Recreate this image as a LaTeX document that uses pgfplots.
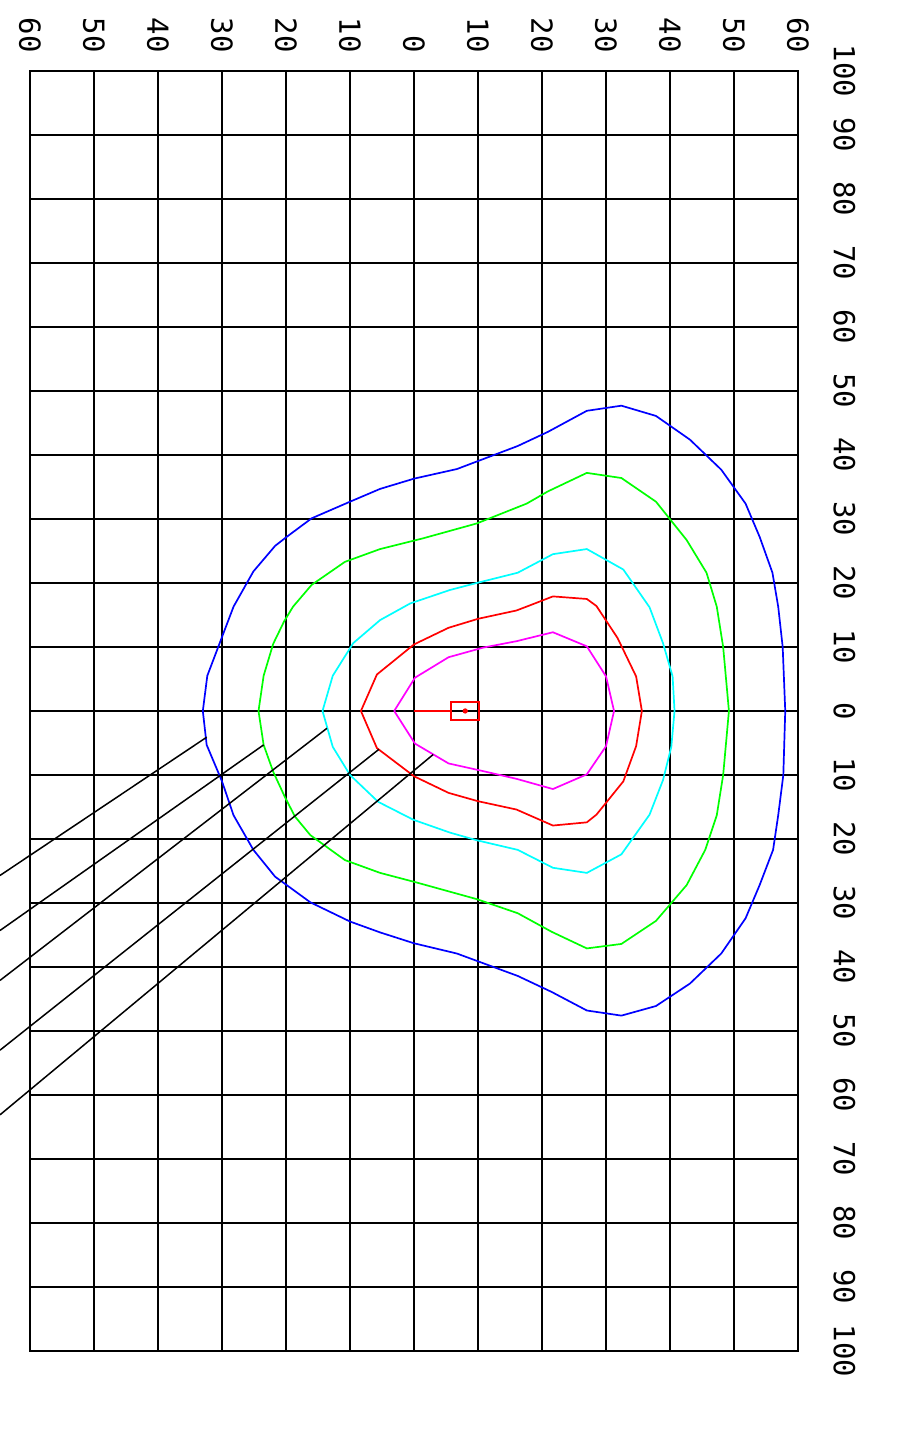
\documentclass[border=0pt]{standalone}
\usepackage{pgfplots}
\pgfplotsset{compat=1.18}
\usepackage{fontspec}
\newfontfamily\labelfont{DejaVu Sans Mono}
\definecolor{cblue}{RGB}{0,0,255}
\definecolor{cgreen}{RGB}{0,255,0}
\definecolor{ccyan}{RGB}{0,255,255}
\definecolor{cred}{RGB}{255,0,0}
\definecolor{cmag}{RGB}{255,0,255}

\begin{document}
\begin{tikzpicture}
\begin{axis}[
  x=3.2pt, y=3.2pt,
  xmin=-60, xmax=60, ymin=-100, ymax=100,
  clip=false,
  axis line style={black, line width=0.9pt},
  grid=major,
  major grid style={black, line width=0.9pt},
  xtick={-60,-50,...,60},
  xticklabels={60,50,40,30,20,10,0,10,20,30,40,50,60},
  ytick={-100,-90,...,100},
  yticklabels={100,90,80,70,60,50,40,30,20,10,0,10,20,30,40,50,60,70,80,90,100},
  xticklabel pos=right,
  yticklabel pos=right,
  major tick length=0pt,
  tick label style={font=\labelfont\fontsize{14.5}{17}\selectfont, rotate=-90, inner sep=0pt},
  xticklabel style={anchor=east},
  yticklabel style={anchor=south},
  xticklabel shift=9pt,
  yticklabel shift=17.5pt,
]

% outer contour
\addplot[cblue, line width=0.85pt] coordinates {
  (-33.0,0) (-32.3,5.5) (-30.1,11.3) (-28.2,16.3) (-25.1,21.8) (-21.7,25.8)
  (-19.9,27.2) (-16.0,30.1) (-10.0,32.7) (-5.3,34.7) (0,36.3) (6.7,37.8)
  (16.2,41.4) (20.9,43.6) (27.0,46.9) (32.4,47.7) (37.8,46.1) (43.1,42.4)
  (48.0,37.7) (51.8,32.4) (54.0,27.2) (56.0,21.6) (56.9,16.3) (57.6,10.0)
  (58.0,0)
  (57.7,-10.0) (56.9,-16.3) (56.1,-21.7) (54.0,-27.2) (51.8,-32.4) (48.0,-37.9)
  (43.1,-42.6) (37.8,-46.1) (32.4,-47.6) (27.0,-46.8) (21.5,-43.9) (16.2,-41.4)
  (6.7,-37.9) (0,-36.3) (-5.3,-34.6) (-10.0,-32.9) (-16.2,-29.9) (-19.9,-27.2)
  (-21.7,-25.9) (-25.1,-21.7) (-28.2,-16.3) (-30.0,-11.0) (-32.4,-5.3) (-33.0,0)
};

\addplot[cgreen, line width=0.85pt] coordinates {
  (-24.3,0) (-23.5,5.5) (-22.0,10.5) (-20.3,14.0) (-18.9,16.3) (-16.0,19.7)
  (-10.8,23.3) (-5.3,25.3) (1.5,27.0) (9.8,29.3) (17.6,32.4) (20.9,34.3)
  (27.0,37.2) (32.4,36.4) (37.8,32.7) (42.6,26.7) (45.7,21.6) (47.3,16.3)
  (48.3,10.0) (49.2,0)
  (48.3,-10.0) (47.3,-16.3) (45.5,-21.7) (42.6,-27.2) (37.8,-32.8) (32.4,-36.4)
  (27.0,-37.1) (21.5,-34.5) (16.2,-31.6) (9.8,-29.4) (0.4,-26.8) (-5.3,-25.3)
  (-10.8,-23.3) (-16.2,-19.4) (-18.6,-16.5) (-20.2,-13.4) (-22.0,-9.5)
  (-23.5,-5.3) (-24.3,0)
};

\addplot[ccyan, line width=0.85pt] coordinates {
  (-14.3,0) (-12.7,5.5) (-9.5,10.6) (-5.3,14.2) (-0.6,16.8) (5.6,18.9)
  (9.8,20.0) (16.2,21.6) (21.7,24.5) (27.0,25.3) (32.7,22.1) (36.8,16.2)
  (38.9,10.6) (40.4,5.4) (40.7,0)
  (40.2,-5.6) (38.9,-10.8) (36.8,-16.2) (32.4,-22.4) (27.0,-25.3) (21.7,-24.5)
  (16.2,-21.7) (9.8,-20.2) (5.6,-19.0) (-0.1,-17.0) (-5.6,-14.2) (-10.0,-10.0)
  (-12.7,-5.6) (-14.3,0)
};

\addplot[cred, line width=0.85pt] coordinates {
  (-8.3,0) (-5.8,5.7) (0,10.4) (5.4,13.0) (10.0,14.4) (16.0,15.7) (18.1,16.5)
  (21.7,17.9) (27.0,17.5) (28.5,16.4) (31.8,11.4) (34.7,5.4) (35.6,0)
  (34.7,-5.5) (32.7,-11.0) (28.5,-16.2) (27.0,-17.4) (21.7,-17.9) (16.0,-15.4)
  (10.0,-14.1) (5.4,-12.8) (0,-10.2) (-5.8,-5.8) (-8.3,0)
};

\addplot[cmag, line width=0.85pt] coordinates {
  (-3.1,0) (0.15,5.2) (5.4,8.4) (10.8,9.9) (16.0,10.9) (21.7,12.3) (27.0,10.1)
  (30.0,5.4) (31.25,0) (30.0,-5.5) (27.0,-9.9) (21.7,-12.2) (16.0,-10.6)
  (10.8,-9.4) (5.4,-8.2) (0.15,-5.1) (-3.1,0)
};

% centre marker
\addplot[cred, line width=0.9pt] coordinates {(0,0) (5.7,0)};
\addplot[cred, only marks, mark=square, mark size=4.5pt,
  mark options={xscale=1.556, line width=0.9pt}] coordinates {(8,0)};
\addplot[cred, only marks, mark=*, mark size=1.1pt] coordinates {(8,0)};

% leader lines
\addplot[black, line width=0.75pt] coordinates {(-32.4,-4.1) (-64.69,-25.7)};
\addplot[black, line width=0.75pt] coordinates {(-23.5,-5.3) (-64.69,-34.3)};
\addplot[black, line width=0.75pt] coordinates {(-13.6,-2.7) (-64.69,-42.1)};
\addplot[black, line width=0.75pt] coordinates {(-5.5,-6.0) (-64.69,-53.0)};
\addplot[black, line width=0.75pt] coordinates {(3.0,-6.8) (-64.69,-63.1)};

\coordinate (bbl) at (axis cs:-64.69,-115.94);
\coordinate (btr) at (axis cs:76.09,111.09);
\end{axis}
\pgfresetboundingbox
\path[use as bounding box] (bbl) rectangle (btr);
\end{tikzpicture}
\end{document}
